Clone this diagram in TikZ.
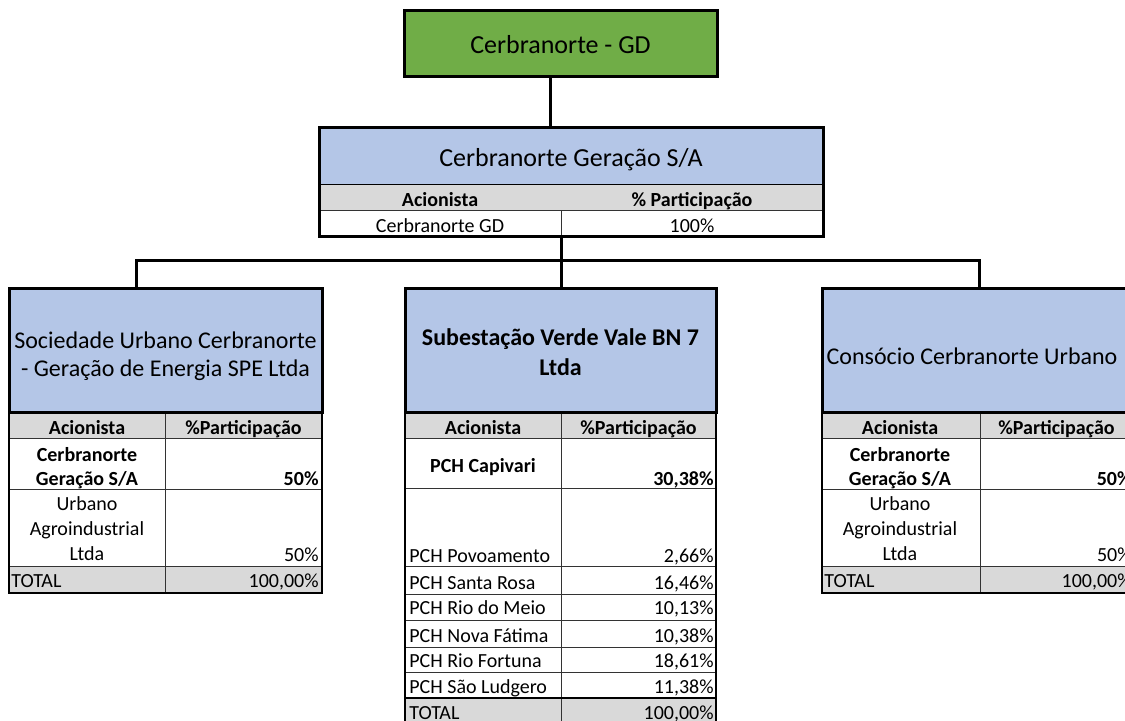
\documentclass[tikz,border=0pt]{standalone}
\usepackage{fontspec}
\setmainfont{Carlito}
\usepackage{xcolor}
\usepackage{tikz}

\definecolor{gdgreen}{HTML}{70AD47}
\definecolor{hdrblue}{HTML}{B4C6E7}
\definecolor{rowgrey}{HTML}{D9D9D9}
\newcommand\tabfont{\fontsize{10}{12.3}\selectfont}
\newcommand\ttlfont{\fontsize{12}{14}\selectfont}

\begin{document}
\begin{tikzpicture}[x=0.5pt,y=-0.5pt,
  conn/.style={line width=1.5pt},
  gridline/.style={line width=0.5pt, draw=black!80},
  sideline/.style={line width=1pt},
  hdrbox/.style={draw, line width=1.5pt, fill=hdrblue, inner sep=0pt},
  txt/.style={font=\tabfont, inner sep=0pt},
  txtb/.style={font=\tabfont\bfseries, inner sep=0pt},
  ttl/.style={font=\ttlfont, inner sep=0pt, align=center}]

\useasboundingbox (0,0) rectangle (1125,721);
\clip (0,0) rectangle (1125,721);

% topo
\node[draw, line width=1.5pt, fill=gdgreen, minimum width=156.5pt, minimum height=33pt] (gd) at (560.5,44) {};
\node[font=\fontsize{13}{15}\selectfont, inner sep=0pt, anchor=base] (gdT) at (560.5,54) {Cerbranorte - GD};

% Cerbranorte Geracao S/A
\fill[rowgrey] (319,185) rectangle (823,211);
\draw[gridline] (319,211) -- (823,211) (561,211) -- (561,237);
\node[draw, line width=0.5pt, fill=hdrblue, minimum width=252pt, minimum height=28.5pt] (ger) at (571,156.5) {};
\node[font=\fontsize{13}{15}\selectfont, inner sep=0pt, anchor=base] (gerT) at (571,167) {Cerbranorte Geração S/A};
\node[txtb, anchor=base] (gerA) at (440,207) {Acionista};
\node[txtb, anchor=base] (gerP) at (692,207) {\% Participação};
\node[txt, anchor=base] (ger1n) at (440,233) {Cerbranorte GD};
\node[txt, anchor=base] (ger1v) at (692,233) {100\%};
\node[draw, line width=1.5pt, minimum width=252pt, minimum height=54.5pt] (gerbox) at (571,182.5) {};

% Sociedade Urbano Cerbranorte
\fill[rowgrey] (9,413) rectangle (322,439);
\fill[rowgrey] (9,567) rectangle (322,593);
\draw[gridline] (9,439) -- (322,439) (9,490) -- (322,490) (9,567) -- (322,567) (165,413) -- (165,593);
\draw[sideline] (9,413) -- (9,593) -- (322,593) -- (322,413);
\node[hdrbox, minimum width=156.5pt, minimum height=62pt] (soc) at (165.5,351) {};
\node[ttl, anchor=base] (socT) at (165.5,377) {Sociedade Urbano Cerbranorte\\- Geração de Energia SPE Ltda};
\node[txtb, anchor=base] (socA) at (87,435) {Acionista};
\node[txtb, anchor=base] (socP) at (243.5,435) {\%Participação};
\node[txtb, anchor=base, align=center] (soc1n) at (87,486) {Cerbranorte\\Geração S/A};
\node[txtb, anchor=base east] (soc1v) at (319,486) {50\%};
\node[txt, anchor=base, align=center] (soc2n) at (87,560) {Urbano\\Agroindustrial\\Ltda};
\node[txt, anchor=base east] (soc2v) at (319,561) {50\%};
\node[txt, anchor=base west] (socTn) at (11,588) {TOTAL};
\node[txt, anchor=base east] (socTv) at (319,588) {100,00\%};

% Subestacao Verde Vale BN 7
\fill[rowgrey] (405,413) rectangle (716,439);
\fill[rowgrey] (405,698) rectangle (716,725);
\draw[gridline] (405,439) -- (716,439) (405,489) -- (716,489) (405,567) -- (716,567)
  (405,594) -- (716,594) (405,620) -- (716,620) (405,647) -- (716,647)
  (405,672) -- (716,672) (561,413) -- (561,725);
\draw[sideline] (405,698) -- (716,698) (405,413) -- (405,725) (716,413) -- (716,725);
\node[hdrbox, minimum width=155.5pt, minimum height=62pt] (sub) at (560.5,351) {};
\node[ttl, anchor=base, font=\fontsize{12}{15}\selectfont\bfseries] (subT) at (560.5,376) {Subestação Verde Vale BN 7\\Ltda};
\node[txtb, anchor=base] (subA) at (483,435) {Acionista};
\node[txtb, anchor=base] (subP) at (638.5,435) {\%Participação};
\node[txtb, anchor=base] (sub1n) at (483,473) {PCH Capivari};
\node[txtb, anchor=base east] (sub1v) at (714,486) {30,38\%};
\node[txt, anchor=base west] (sub2n) at (409,563) {PCH Povoamento};
\node[txt, anchor=base east] (sub2v) at (714,563) {2,66\%};
\node[txt, anchor=base west] (sub3n) at (409,589) {PCH Santa Rosa};
\node[txt, anchor=base east] (sub3v) at (714,589) {16,46\%};
\node[txt, anchor=base west] (sub4n) at (409,615) {PCH Rio do Meio};
\node[txt, anchor=base east] (sub4v) at (714,615) {10,13\%};
\node[txt, anchor=base west] (sub5n) at (409,642) {PCH Nova Fátima};
\node[txt, anchor=base east] (sub5v) at (714,642) {10,38\%};
\node[txt, anchor=base west] (sub6n) at (409,667) {PCH Rio Fortuna};
\node[txt, anchor=base east] (sub6v) at (714,667) {18,61\%};
\node[txt, anchor=base west] (sub7n) at (409,693) {PCH São Ludgero};
\node[txt, anchor=base east] (sub7v) at (714,693) {11,38\%};
\node[txt, anchor=base west] (subTn) at (409,719) {TOTAL};
\node[txt, anchor=base east] (subTv) at (714,719) {100,00\%};

% Consocio Cerbranorte Urbano
\fill[rowgrey] (822,413) rectangle (1135,439);
\fill[rowgrey] (822,567) rectangle (1135,593);
\draw[gridline] (822,439) -- (1135,439) (822,490) -- (1135,490) (822,567) -- (1135,567) (980,413) -- (980,593);
\draw[sideline] (822,413) -- (822,593) -- (1135,593) -- (1135,413);
\node[hdrbox, minimum width=156.5pt, minimum height=62pt] (cons) at (978.5,351) {};
\node[ttl, anchor=base] (consT) at (972,365) {Consócio Cerbranorte Urbano};
\node[txtb, anchor=base] (consA) at (900,435) {Acionista};
\node[txtb, anchor=base] (consP) at (1056.5,435) {\%Participação};
\node[txtb, anchor=base, align=center] (cons1n) at (900,486) {Cerbranorte\\Geração S/A};
\node[txtb, anchor=base east] (cons1v) at (1132,486) {50\%};
\node[txt, anchor=base, align=center] (cons2n) at (900,560) {Urbano\\Agroindustrial\\Ltda};
\node[txt, anchor=base east] (cons2v) at (1132,561) {50\%};
\node[txt, anchor=base west] (consTn) at (824,588) {TOTAL};
\node[txt, anchor=base east] (consTv) at (1132,588) {100,00\%};

% ligacoes
\coordinate (bL) at (136,261);
\coordinate (bR) at (979,261);
\draw[conn] ([xshift=-5.25pt]gd.south) -- ([xshift=-5.25pt]gd.south |- gerbox.north);
\draw[conn] ([xshift=-5pt]gerbox.south) -- ([xshift=-5pt]gerbox.south |- sub.north);
\draw[conn] (bL |- soc.north) -- (bL) -- (bR) -- (bR |- cons.north);

\end{tikzpicture}
\end{document}
